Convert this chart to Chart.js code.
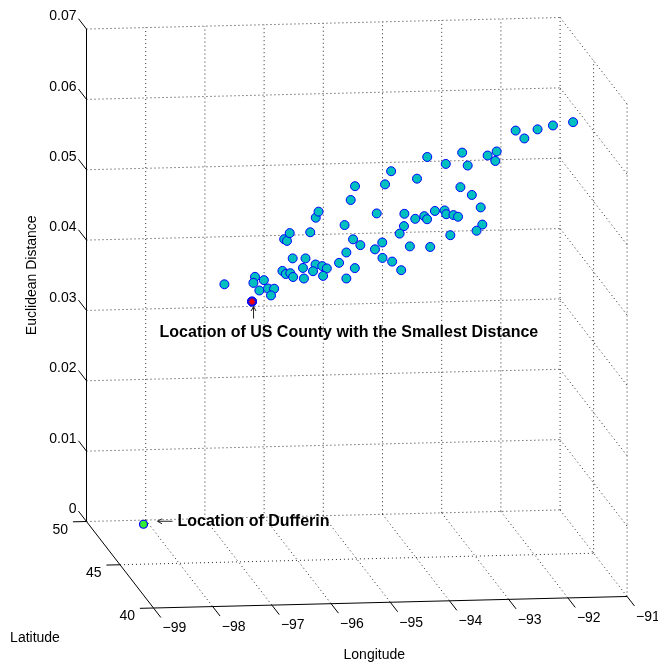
<!DOCTYPE html>
<html>
<head>
<meta charset="utf-8">
<script src="https://cdn.jsdelivr.net/npm/chart.js@4/dist/chart.umd.min.js"></script>
<style>
html, body { margin: 0; padding: 0; background: #fff; }
#wrap { width: 658px; height: 662px; }
</style>
</head>
<body>
<div id="wrap"><canvas id="chart" width="658" height="662"></canvas></div>
<script>
// axis ticks
const lonTicks = [-99, -98, -97, -96, -95, -94, -93, -92, -91];
const latTicks = [40, 45, 50];
const distTicks = [0, 0.01, 0.02, 0.03, 0.04, 0.05, 0.06, 0.07];

// US counties (longitude, latitude, euclidean distance)
const countyLon = [-97.01, -96.43, -96.38, -96.52, -96.23, -96.42, -96.16, -96.17, -96.11, -96.03,
  -95.86, -96.01, -95.85, -95.97, -96.00, -95.84, -96.02, -95.64, -95.57, -95.78,
  -95.56, -95.58, -95.42, -95.47, -95.40, -95.47, -95.28, -95.23, -94.99, -95.03,
  -94.98, -94.95, -94.94, -94.95, -94.96, -94.92, -94.95, -94.55, -94.57, -94.58,
  -94.34, -94.29, -94.25, -94.41, -94.42, -93.87, -93.81, -93.61, -93.97, -94.09,
  -94.05, -93.99, -93.76, -93.90, -93.86, -93.70, -93.68, -93.63, -93.49, -93.48,
  -93.29, -93.02, -92.88, -93.09, -93.42, -93.25, -93.17, -93.22, -93.24, -92.79,
  -92.75, -92.66, -92.43, -92.17, -92.06, -91.80, -91.46];
const countyLat = [47, 48, 48, 47, 48, 47, 48, 47, 48, 47,
  48, 46, 47, 46, 47, 48, 46, 47, 48, 46,
  47, 46, 47, 47, 48, 46, 47, 48, 46, 45,
  47, 46, 45, 47, 48, 46, 47, 46, 45, 46,
  47, 46, 45, 46, 45, 46, 45, 44, 47, 46,
  47, 46, 45, 46, 45, 46, 45, 44, 45, 44,
  45, 44, 45, 44, 45, 45, 44, 45, 44, 45,
  44, 45, 44, 45, 44, 44, 44];
const countyDist = [0.0370, 0.0332, 0.0367, 0.0371, 0.0362, 0.0360, 0.0350, 0.0362, 0.0340, 0.0387,
  0.0370, 0.0396, 0.0378, 0.0417, 0.0432, 0.0417, 0.0453, 0.0404, 0.0378, 0.0388,
  0.0441, 0.0474, 0.0470, 0.0395, 0.0373, 0.0405, 0.0389, 0.0366, 0.0498, 0.0530,
  0.0450, 0.0442, 0.0446, 0.0411, 0.0384, 0.0401, 0.0374, 0.0478, 0.0449, 0.0427,
  0.0402, 0.0409, 0.0409, 0.0519, 0.0550, 0.0526, 0.0569, 0.0571, 0.0464, 0.0459,
  0.0436, 0.0430, 0.0441, 0.0469, 0.0485, 0.0468, 0.0492, 0.0505, 0.0487, 0.0498,
  0.0483, 0.0508, 0.0471, 0.0475, 0.0457, 0.0525, 0.0526, 0.0574, 0.0568, 0.0569,
  0.0587, 0.0561, 0.0616, 0.0592, 0.0617, 0.0622, 0.0626];

// Dufferin itself
const dufferinLon = -98.09;
const dufferinLat = 49.53;
const dufferinDist = 0;

const W = 658, H = 662;
const FONT = '"Liberation Sans", Arial, Helvetica, sans-serif';

// fixed 3-D view (orthographic), screen units per data unit
const view = {
  originX: 86.5, originY: 521.5,
  lonDX: 59.2, lonDY: -1.44,
  latDX: -6.7, latDY: -8.65,
  distDY: -7035
};
const lonMin = lonTicks[0], lonMax = lonTicks[lonTicks.length - 1];
const latMin = latTicks[0], latMax = latTicks[latTicks.length - 1];
const dMin = distTicks[0], dMax = distTicks[distTicks.length - 1];

function project(lon, lat, d) {
  const u = lon - lonMin, v = lat - latMax;
  return {
    x: view.originX + u * view.lonDX + v * view.latDX,
    y: view.originY + u * view.lonDY + v * view.latDY + d * view.distDY
  };
}

// grid lines on the back, right and floor planes
const gridSegs = [];
lonTicks.forEach(lon => { if (lon !== lonMin) gridSegs.push([[lon, latMax, dMin], [lon, latMax, dMax]]); });
distTicks.forEach(d => gridSegs.push([[lonMin, latMax, d], [lonMax, latMax, d]]));
latTicks.forEach(lat => { if (lat !== latMax) gridSegs.push([[lonMax, lat, dMin], [lonMax, lat, dMax]]); });
distTicks.forEach(d => { if (d !== dMin) gridSegs.push([[lonMax, latMax, d], [lonMax, latMin, d]]); });
latTicks.forEach(lat => { if (lat !== latMin && lat !== latMax) gridSegs.push([[lonMin, lat, dMin], [lonMax, lat, dMin]]); });
lonTicks.forEach(lon => { if (lon !== lonMin) gridSegs.push([[lon, latMax, dMin], [lon, latMin, dMin]]); });

// solid axes and their tick marks
const axisSegs = [
  [[lonMin, latMax, dMin], [lonMin, latMax, dMax]],
  [[lonMin, latMax, dMin], [lonMin, latMin, dMin]],
  [[lonMin, latMin, dMin], [lonMax, latMin, dMin]]
];
distTicks.forEach(d => axisSegs.push([[lonMin, latMax, d], [lonMin, latMax + 1.2, d]]));
latTicks.forEach(lat => axisSegs.push([[lonMin, lat, dMin], [lonMin - 0.23, lat, dMin]]));
lonTicks.forEach(lon => axisSegs.push([[lon, latMin, dMin], [lon, latMin - 1.1, dMin]]));

function segDataset(seg, color, dash, order) {
  return {
    data: seg.map(p => project(p[0], p[1], p[2])),
    showLine: true,
    borderColor: color,
    borderWidth: 1,
    borderDash: dash,
    pointRadius: 0,
    fill: false,
    clip: false,
    order: order
  };
}

const bestIndex = countyDist.indexOf(Math.min(...countyDist));
const countyPoints = countyLon.map((lon, i) => project(lon, countyLat[i], countyDist[i]));
const bestPoint = countyPoints[bestIndex];
const dufferinPoint = project(dufferinLon, dufferinLat, dufferinDist);

const datasets = [
  ...gridSegs.map(s => segDataset(s, 'rgba(20,20,20,0.9)', [1, 3], 20)),
  ...axisSegs.map(s => segDataset(s, '#000', [], 10)),
  {
    data: countyPoints,
    pointRadius: 4.5,
    borderWidth: 1,
    backgroundColor: '#00bfbf',
    borderColor: '#0000ff',
    clip: false,
    order: 3
  },
  {
    data: [bestPoint],
    pointRadius: 4.5,
    borderWidth: 1,
    backgroundColor: '#1414e6',
    borderColor: '#0000ff',
    clip: false,
    order: 2
  },
  {
    data: [bestPoint],
    pointStyle: 'star',
    pointRadius: 3.2,
    borderWidth: 1.2,
    borderColor: '#ff0000',
    backgroundColor: '#ff0000',
    clip: false,
    order: 1
  },
  {
    data: [dufferinPoint],
    pointRadius: 4,
    borderWidth: 1.2,
    backgroundColor: '#33ee33',
    borderColor: '#0000ff',
    clip: false,
    order: 1
  }
];

const labelsPlugin = {
  id: 'labels3d',
  afterDatasetsDraw(chart) {
    const ctx = chart.ctx;
    const xs = chart.scales.x, ys = chart.scales.y;
    const px = (lon, lat, d) => {
      const p = project(lon, lat, d);
      return [xs.getPixelForValue(p.x), ys.getPixelForValue(p.y)];
    };
    ctx.save();
    ctx.setLineDash([]);
    ctx.fillStyle = '#000';
    ctx.font = '14px ' + FONT;
    ctx.textBaseline = 'middle';

    // distance tick labels
    ctx.textAlign = 'right';
    distTicks.forEach(d => {
      const [x, y] = px(lonMin, latMax, d);
      ctx.fillText(d === 0 ? '0' : d.toFixed(2), x - 10, y - 12.5);
    });
    // latitude tick labels
    latTicks.forEach(lat => {
      const [x, y] = px(lonMin, lat, dMin);
      ctx.fillText(String(lat), x - 18.5, y + 8.5);
    });
    // longitude tick labels
    ctx.textAlign = 'left';
    lonTicks.forEach(lon => {
      const [x, y] = px(lon, latMin, dMin);
      ctx.fillText('\u2212' + Math.abs(lon), x + 9, y + 20.5);
    });

    // axis titles
    ctx.textAlign = 'center';
    let [lx, ly] = px((lonMin + lonMax) / 2, latMin, dMin);
    ctx.fillText('Longitude', lx - 16, ly + 53);
    [lx, ly] = px(lonMin, (latMin + latMax) / 2, dMin);
    ctx.fillText('Latitude', lx - 85, ly + 73);
    [lx, ly] = px(lonMin, latMax, (dMin + dMax) / 2);
    ctx.save();
    ctx.translate(lx - 54, ly);
    ctx.rotate(-Math.PI / 2);
    ctx.fillText('Euclidean Distance', 0, 0);
    ctx.restore();

    // annotations
    ctx.strokeStyle = '#222';
    ctx.lineWidth = 1;
    const bx = xs.getPixelForValue(bestPoint.x) + 1.5, by = ys.getPixelForValue(bestPoint.y);
    ctx.beginPath();
    ctx.moveTo(bx, by + 17); ctx.lineTo(bx, by + 5);
    ctx.moveTo(bx - 2.5, by + 9.5); ctx.lineTo(bx, by + 5); ctx.lineTo(bx + 2.5, by + 9.5);
    ctx.stroke();
    ctx.font = 'bold 16px ' + FONT;
    ctx.textAlign = 'left';
    ctx.fillText('Location of US County with the Smallest Distance', bx - 94, by + 31.5);

    const dx = xs.getPixelForValue(dufferinPoint.x), dy = ys.getPixelForValue(dufferinPoint.y) - 3;
    ctx.beginPath();
    ctx.moveTo(dx + 29, dy); ctx.lineTo(dx + 14, dy);
    ctx.moveTo(dx + 18.5, dy - 2.5); ctx.lineTo(dx + 14, dy); ctx.lineTo(dx + 18.5, dy + 2.5);
    ctx.stroke();
    ctx.fillText('Location of Dufferin', dx + 34, dy);
    ctx.restore();
  }
};

new Chart(document.getElementById('chart'), {
  type: 'scatter',
  data: { datasets },
  options: {
    responsive: false,
    animation: false,
    events: [],
    layout: { padding: 0, autoPadding: false },
    scales: {
      x: { type: 'linear', min: 0, max: W, display: false },
      y: { type: 'linear', min: 0, max: H, reverse: true, display: false }
    },
    plugins: {
      legend: { display: false },
      tooltip: { enabled: false }
    }
  },
  plugins: [labelsPlugin]
});
</script>
</body>
</html>
